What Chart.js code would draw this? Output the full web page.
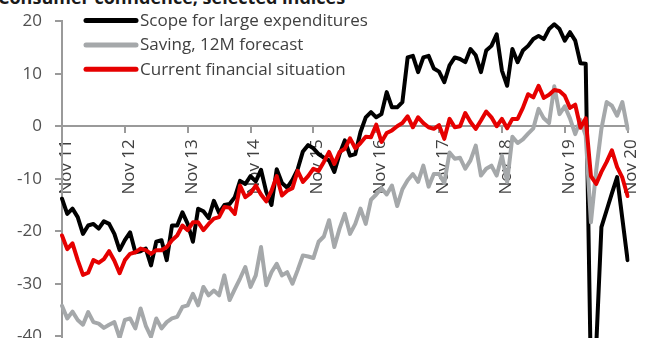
<!DOCTYPE html>
<html>
<head>
<meta charset="utf-8">
<script src="https://cdn.jsdelivr.net/npm/chart.js@4/dist/chart.umd.min.js"></script>
<style>
  html, body { margin: 0; padding: 0; background: #fff; overflow: hidden; }
  #title {
    position: absolute; left: -2px; top: -12px;
    font: bold 18px/18px 'Open Sans', sans-serif; color: #1a1a1a; white-space: nowrap;
  }
  #wrap { position: absolute; left: 0; top: -2px; width: 655px; height: 414px; }
</style>
</head>
<body>
<div id="title">Consumer confidence, selected indices</div>
<div id="wrap"><canvas id="chart" width="655" height="414"></canvas></div>
<script>
// monthly, Nov 2011 .. Nov 2020
const monthNames = ['Jan', 'Feb', 'Mar', 'Apr', 'May', 'Jun', 'Jul', 'Aug', 'Sep', 'Oct', 'Nov', 'Dec'];
const tickLabels = ['Nov 11', 'Nov 12', 'Nov 13', 'Nov 14', 'Nov 15', 'Nov 16', 'Nov 17', 'Nov 18', 'Nov 19', 'Nov 20'];
const seriesNames = ['Scope for large expenditures', 'Saving, 12M forecast', 'Current financial situation'];
const seriesColors = ['#000000', '#a5a8aa', '#e60000'];

const scope = [
  -13.8, -16.7, -15.7, -17.3, -20.5, -18.9, -18.6, -19.5, -18.1, -18.6, -20.5, -23.6,
  -21.7, -20.2, -24.0, -23.8, -23.3, -26.5, -22.0, -21.7, -25.5, -18.9, -18.9, -16.4,
  -18.6, -22.0, -15.7, -16.2, -17.5, -14.2, -16.5, -15.0, -14.8, -13.5, -10.4, -11.0,
  -9.5, -10.5, -8.3, -12.5, -15.0, -8.2, -10.8, -11.7, -10.2, -8.2, -4.8, -3.6,
  -4.2, -5.3, -6.0, -6.5, -8.7, -5.3, -2.7, -5.6, -5.3, -1.1, 1.7, 2.7,
  1.7, 2.3, 6.5, 3.6, 3.6, 4.6, 13.1, 13.4, 10.3, 13.1, 13.4, 11.0,
  10.4, 8.4, 11.6, 13.1, 12.8, 12.2, 14.7, 13.5, 10.3, 14.4, 15.3, 17.5,
  10.6, 7.7, 14.7, 12.2, 14.4, 15.3, 16.6, 17.2, 16.6, 18.5, 19.4, 18.5,
  16.3, 17.9, 16.3, 12.0, 11.9, -48.0, -42.0, -19.2, -16.0, -12.8, -9.7, -17.6,
  -25.5
];
const saving = [
  -34.2, -36.6, -35.3, -36.9, -37.8, -35.4, -37.3, -37.6, -38.4, -37.8, -37.3, -40.3,
  -36.9, -36.6, -38.5, -34.7, -38.0, -40.1, -36.6, -38.5, -37.3, -36.6, -36.3, -34.4,
  -34.1, -31.9, -34.1, -30.6, -32.2, -31.3, -32.2, -28.4, -33.1, -31.0, -29.0, -26.8,
  -30.6, -28.4, -23.0, -30.3, -27.8, -26.2, -28.4, -27.8, -30.0, -27.4, -24.6, -24.8,
  -25.1, -22.0, -21.0, -17.9, -23.0, -19.5, -16.7, -20.5, -18.6, -15.7, -18.6, -14.0,
  -13.0, -11.8, -13.0, -11.3, -15.2, -12.0, -10.3, -9.1, -10.6, -7.5, -11.5, -9.1,
  -9.1, -10.8, -5.0, -6.2, -6.0, -8.1, -6.5, -3.7, -9.4, -8.1, -7.5, -9.4,
  -5.6, -10.6, -2.0, -3.2, -2.5, -1.4, -0.4, 3.3, 1.5, 0.6, 7.6, 2.3,
  3.8, 1.5, -1.5, 1.2, -1.8, -18.3, -8.5, -0.5, 4.6, 3.9, 2.0, 4.6,
  -0.5
];
const current = [
  -20.8, -23.4, -22.3, -25.5, -28.3, -27.9, -25.5, -26.0, -25.3, -23.8, -25.6, -28.0,
  -25.5, -24.3, -24.0, -23.3, -23.6, -24.3, -23.6, -23.6, -23.0, -21.7, -20.8, -18.9,
  -19.8, -18.3, -18.3, -19.8, -18.6, -17.6, -17.3, -15.4, -15.5, -16.7, -11.3, -13.5,
  -12.8, -11.3, -13.0, -14.3, -12.3, -9.5, -13.2, -12.3, -11.8, -8.5, -10.6, -9.5,
  -8.1, -8.5, -6.8, -4.9, -7.2, -4.9, -4.3, -2.3, -4.2, -3.2, -2.0, -2.1,
  0.3, -3.0, -1.3, -0.8, 0.0, 0.6, 1.9, -0.2, 1.7, 0.6, -0.2, -0.5,
  0.2, -2.4, 1.4, -0.2, 0.0, 2.5, 0.8, -0.5, 1.1, 2.8, 1.7, 0.0,
  1.4, -0.4, 1.4, 1.4, 3.5, 6.1, 5.5, 7.7, 5.4, 6.0, 6.9, 6.7,
  5.8, 3.5, 4.1, -0.3, 1.5, -9.5, -11.0, -8.7, -6.8, -4.6, -7.8, -9.8,
  -13.3
];

// category labels "Nov 11", "Dec 11", "Jan 12", ...
const labels = scope.map((v, i) => {
  const m = (10 + i) % 12;
  const yr = 11 + Math.floor((10 + i) / 12);
  return monthNames[m] + ' ' + String(yr).padStart(2, '0');
});

const axisGray = '#9a9a9a';
const font = { family: "'Open Sans', sans-serif", size: 17 };

// legend drawn inside the plot, top left (canvas is shifted up 2px)
const insideLegend = {
  id: 'insideLegend',
  afterDraw(chart) {
    const ctx = chart.ctx;
    ctx.save();
    chart.data.datasets.forEach((ds, i) => {
      const y = 22.5 + i * 24.4;
      ctx.strokeStyle = ds.borderColor;
      ctx.lineWidth = 5;
      ctx.lineCap = 'round';
      ctx.beginPath();
      ctx.moveTo(86, y);
      ctx.lineTo(136, y);
      ctx.stroke();
      ctx.fillStyle = '#404040';
      ctx.font = "17px 'Open Sans', sans-serif";
      ctx.textBaseline = 'middle';
      ctx.textAlign = 'left';
      ctx.fillText(ds.label, 140, y + 0.5);
    });
    ctx.restore();
  }
};

const ctx = document.getElementById('chart').getContext('2d');
new Chart(ctx, {
  type: 'line',
  data: {
    labels: labels,
    datasets: [
      { label: seriesNames[0], data: scope, borderColor: seriesColors[0], order: 3 },
      { label: seriesNames[1], data: saving, borderColor: seriesColors[1], order: 2 },
      { label: seriesNames[2], data: current, borderColor: seriesColors[2], order: 1 }
    ]
  },
  options: {
    responsive: false,
    animation: false,
    layout: { padding: { top: 16, right: 16, bottom: 0, left: 0 } },
    elements: {
      line: { borderWidth: 4, tension: 0, borderJoinStyle: 'round', borderCapStyle: 'round' },
      point: { radius: 0 }
    },
    plugins: {
      legend: { display: false },
      tooltip: { enabled: false }
    },
    scales: {
      x: {
        type: 'category',
        position: { y: 0 },
        offset: false,
        afterFit: (scale) => { scale.height = 0; },
        grid: { display: true, drawOnChartArea: false, drawTicks: true, tickLength: 6, color: axisGray, lineWidth: 2 },
        border: { display: true, color: axisGray, width: 2 },
        ticks: {
          autoSkip: false,
          minRotation: 90,
          maxRotation: 90,
          padding: 7,
          labelOffset: 4,
          color: '#404040',
          font: font,
          callback: function (value) {
            const lab = this.getLabelForValue(value);
            return tickLabels.includes(lab) ? lab : null;
          }
        }
      },
      y: {
        min: -50,
        max: 20,
        afterFit: (scale) => { scale.width = 62; },
        grid: { display: true, drawOnChartArea: false, drawTicks: true, tickLength: 7, color: axisGray, lineWidth: 2 },
        border: { display: true, color: axisGray, width: 2 },
        ticks: { stepSize: 10, padding: 13, color: '#505050', font: font }
      }
    }
  },
  plugins: [insideLegend]
});
</script>
</body>
</html>
